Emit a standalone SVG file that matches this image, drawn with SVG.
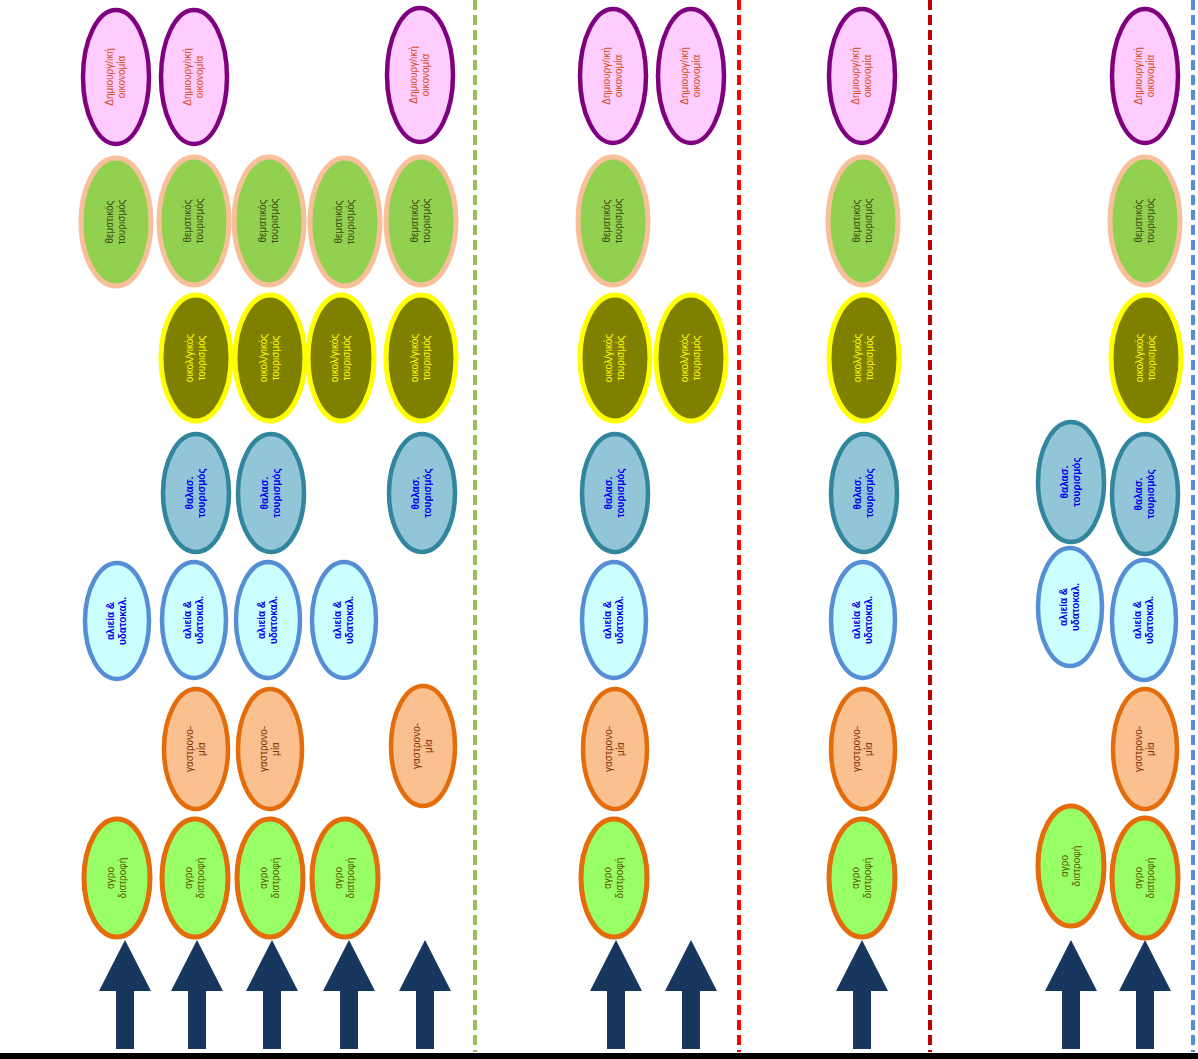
<svg xmlns="http://www.w3.org/2000/svg" width="1198" height="1059" viewBox="0 0 1198 1059">
<defs>
<style>
text{font-family:"Liberation Sans",Arial,sans-serif;font-size:10px;text-anchor:middle}
.pur ellipse{fill:#ffccff;stroke:#7f007f;stroke-width:4.5}
.pur text{fill:#d9480f}
.them ellipse{fill:#92d050;stroke:#f8c09a;stroke-width:5}
.them text{fill:#3a4a10}
.eco ellipse{fill:#7f7f00;stroke:#ffff00;stroke-width:5}
.eco text{fill:#ffff00}
.sea ellipse{fill:#92c5d8;stroke:#31859c;stroke-width:4.5}
.sea text{fill:#0000ee;font-weight:bold}
.fish ellipse{fill:#ccffff;stroke:#558ed5;stroke-width:4.5}
.fish text{fill:#0000ee;font-weight:bold}
.gas ellipse{fill:#fac090;stroke:#e46c0a;stroke-width:4.5}
.gas text{fill:#7f2f00}
.agr ellipse{fill:#99ff66;stroke:#e46c0a;stroke-width:5}
.agr text{fill:#5a5a00}
.arr{fill:#17375e}
.sep{fill:none;stroke-width:4;stroke-dasharray:10 5}
</style>
<path id="arrowT" d="M-9,1049 L-9,991 L-26,991 L0,940 L26,991 L9,991 L9,1049 Z"/>
</defs>
<rect width="1198" height="1059" fill="#ffffff"/>

<g id="separators">
<line class="sep" x1="475" y1="0" x2="475" y2="1052" stroke="#9bbb59"/>
<line class="sep" x1="739" y1="0" x2="739" y2="1052" stroke="#ff0000"/>
<line class="sep" x1="930" y1="0" x2="930" y2="1052" stroke="#c00000"/>
<line class="sep" x1="1193" y1="0" x2="1193" y2="1052" stroke="#558ed5"/>
<rect x="0" y="1053" width="1198" height="6" fill="#000000"/>
</g>

<g id="connectors" class="arr">
<use href="#arrowT" x="125"/>
<use href="#arrowT" x="197"/>
<use href="#arrowT" x="272"/>
<use href="#arrowT" x="349"/>
<use href="#arrowT" x="425"/>
<use href="#arrowT" x="616"/>
<use href="#arrowT" x="691"/>
<use href="#arrowT" x="862"/>
<use href="#arrowT" x="1071"/>
<use href="#arrowT" x="1145"/>
</g>

<!-- column 1 -->
<g id="n1-pur" class="pur"><ellipse cx="116" cy="77" rx="33" ry="67"/><text transform="translate(116,77) rotate(-90)"><tspan x="0" y="-3">Δημιουργ/ική</tspan><tspan x="0" y="9">οικονομία</tspan></text></g>
<g id="n1-them" class="them"><ellipse cx="116" cy="222" rx="35" ry="64"/><text transform="translate(116,222) rotate(-90)"><tspan x="0" y="-3">θεματικός</tspan><tspan x="0" y="9">τουρισμός</tspan></text></g>
<g id="n1-fish" class="fish"><ellipse cx="117" cy="621" rx="32" ry="58"/><text transform="translate(117,621) rotate(-90)"><tspan x="0" y="-3">αλιεία &amp;</tspan><tspan x="0" y="9">υδατοκαλ.</tspan></text></g>
<g id="n1-agr" class="agr"><ellipse cx="117" cy="878" rx="33" ry="59"/><text transform="translate(117,878) rotate(-90)"><tspan x="0" y="-3">αγρο</tspan><tspan x="0" y="9">διατροφή</tspan></text></g>

<!-- column 2 -->
<g id="n2-pur" class="pur"><ellipse cx="194" cy="77" rx="33" ry="67"/><text transform="translate(194,77) rotate(-90)"><tspan x="0" y="-3">Δημιουργ/ική</tspan><tspan x="0" y="9">οικονομία</tspan></text></g>
<g id="n2-them" class="them"><ellipse cx="194" cy="221" rx="35" ry="64"/><text transform="translate(194,221) rotate(-90)"><tspan x="0" y="-3">θεματικός</tspan><tspan x="0" y="9">τουρισμός</tspan></text></g>
<g id="n2-eco" class="eco"><ellipse cx="196" cy="358" rx="35" ry="63"/><text transform="translate(196,358) rotate(-90)"><tspan x="0" y="-3">οικολ/γικός</tspan><tspan x="0" y="9">τουρισμός</tspan></text></g>
<g id="n2-sea" class="sea"><ellipse cx="196" cy="493" rx="33" ry="59"/><text transform="translate(196,493) rotate(-90)"><tspan x="0" y="-3">θαλασ.</tspan><tspan x="0" y="9">τουρισμός</tspan></text></g>
<g id="n2-fish" class="fish"><ellipse cx="194" cy="620" rx="32" ry="58"/><text transform="translate(194,620) rotate(-90)"><tspan x="0" y="-3">αλιεία &amp;</tspan><tspan x="0" y="9">υδατοκαλ.</tspan></text></g>
<g id="n2-gas" class="gas"><ellipse cx="196" cy="749" rx="32" ry="60"/><text transform="translate(196,749) rotate(-90)"><tspan x="0" y="-3">γαστρονο-</tspan><tspan x="0" y="9">μία</tspan></text></g>
<g id="n2-agr" class="agr"><ellipse cx="195" cy="878" rx="33" ry="59"/><text transform="translate(195,878) rotate(-90)"><tspan x="0" y="-3">αγρο</tspan><tspan x="0" y="9">διατροφή</tspan></text></g>

<!-- column 3 -->
<g id="n3-them" class="them"><ellipse cx="269" cy="221" rx="35" ry="64"/><text transform="translate(269,221) rotate(-90)"><tspan x="0" y="-3">θεματικός</tspan><tspan x="0" y="9">τουρισμός</tspan></text></g>
<g id="n3-eco" class="eco"><ellipse cx="270" cy="358" rx="35" ry="63"/><text transform="translate(270,358) rotate(-90)"><tspan x="0" y="-3">οικολ/γικός</tspan><tspan x="0" y="9">τουρισμός</tspan></text></g>
<g id="n3-sea" class="sea"><ellipse cx="271" cy="493" rx="33" ry="59"/><text transform="translate(271,493) rotate(-90)"><tspan x="0" y="-3">θαλασ.</tspan><tspan x="0" y="9">τουρισμός</tspan></text></g>
<g id="n3-fish" class="fish"><ellipse cx="268" cy="620" rx="32" ry="58"/><text transform="translate(268,620) rotate(-90)"><tspan x="0" y="-3">αλιεία &amp;</tspan><tspan x="0" y="9">υδατοκαλ.</tspan></text></g>
<g id="n3-gas" class="gas"><ellipse cx="270" cy="749" rx="32" ry="60"/><text transform="translate(270,749) rotate(-90)"><tspan x="0" y="-3">γαστρονο-</tspan><tspan x="0" y="9">μία</tspan></text></g>
<g id="n3-agr" class="agr"><ellipse cx="270" cy="878" rx="33" ry="59"/><text transform="translate(270,878) rotate(-90)"><tspan x="0" y="-3">αγρο</tspan><tspan x="0" y="9">διατροφή</tspan></text></g>

<!-- column 4 -->
<g id="n4-them" class="them"><ellipse cx="345" cy="222" rx="35" ry="64"/><text transform="translate(345,222) rotate(-90)"><tspan x="0" y="-3">θεματικός</tspan><tspan x="0" y="9">τουρισμός</tspan></text></g>
<g id="n4-eco" class="eco"><ellipse cx="341" cy="358" rx="33" ry="63"/><text transform="translate(341,358) rotate(-90)"><tspan x="0" y="-3">οικολ/γικός</tspan><tspan x="0" y="9">τουρισμός</tspan></text></g>
<g id="n4-fish" class="fish"><ellipse cx="344" cy="620" rx="32" ry="58"/><text transform="translate(344,620) rotate(-90)"><tspan x="0" y="-3">αλιεία &amp;</tspan><tspan x="0" y="9">υδατοκαλ.</tspan></text></g>
<g id="n4-agr" class="agr"><ellipse cx="345" cy="878" rx="33" ry="59"/><text transform="translate(345,878) rotate(-90)"><tspan x="0" y="-3">αγρο</tspan><tspan x="0" y="9">διατροφή</tspan></text></g>

<!-- column 5 -->
<g id="n5-pur" class="pur"><ellipse cx="420" cy="75" rx="33" ry="67"/><text transform="translate(420,75) rotate(-90)"><tspan x="0" y="-3">Δημιουργ/ική</tspan><tspan x="0" y="9">οικονομία</tspan></text></g>
<g id="n5-them" class="them"><ellipse cx="421" cy="221" rx="35" ry="64"/><text transform="translate(421,221) rotate(-90)"><tspan x="0" y="-3">θεματικός</tspan><tspan x="0" y="9">τουρισμός</tspan></text></g>
<g id="n5-eco" class="eco"><ellipse cx="421" cy="358" rx="35" ry="63"/><text transform="translate(421,358) rotate(-90)"><tspan x="0" y="-3">οικολ/γικός</tspan><tspan x="0" y="9">τουρισμός</tspan></text></g>
<g id="n5-sea" class="sea"><ellipse cx="422" cy="493" rx="33" ry="59"/><text transform="translate(422,493) rotate(-90)"><tspan x="0" y="-3">θαλασ.</tspan><tspan x="0" y="9">τουρισμός</tspan></text></g>
<g id="n5-gas" class="gas"><ellipse cx="423" cy="746" rx="32" ry="60"/><text transform="translate(423,746) rotate(-90)"><tspan x="0" y="-3">γαστρονο-</tspan><tspan x="0" y="9">μία</tspan></text></g>

<!-- column 6 -->
<g id="n6-pur" class="pur"><ellipse cx="613" cy="76" rx="33" ry="67"/><text transform="translate(613,76) rotate(-90)"><tspan x="0" y="-3">Δημιουργ/ική</tspan><tspan x="0" y="9">οικονομία</tspan></text></g>
<g id="n6-them" class="them"><ellipse cx="613" cy="221" rx="35" ry="64"/><text transform="translate(613,221) rotate(-90)"><tspan x="0" y="-3">θεματικός</tspan><tspan x="0" y="9">τουρισμός</tspan></text></g>
<g id="n6-eco" class="eco"><ellipse cx="615" cy="358" rx="35" ry="63"/><text transform="translate(615,358) rotate(-90)"><tspan x="0" y="-3">οικολ/γικός</tspan><tspan x="0" y="9">τουρισμός</tspan></text></g>
<g id="n6-sea" class="sea"><ellipse cx="615" cy="493" rx="33" ry="59"/><text transform="translate(615,493) rotate(-90)"><tspan x="0" y="-3">θαλασ.</tspan><tspan x="0" y="9">τουρισμός</tspan></text></g>
<g id="n6-fish" class="fish"><ellipse cx="614" cy="620" rx="32" ry="58"/><text transform="translate(614,620) rotate(-90)"><tspan x="0" y="-3">αλιεία &amp;</tspan><tspan x="0" y="9">υδατοκαλ.</tspan></text></g>
<g id="n6-gas" class="gas"><ellipse cx="615" cy="749" rx="32" ry="60"/><text transform="translate(615,749) rotate(-90)"><tspan x="0" y="-3">γαστρονο-</tspan><tspan x="0" y="9">μία</tspan></text></g>
<g id="n6-agr" class="agr"><ellipse cx="614" cy="878" rx="33" ry="59"/><text transform="translate(614,878) rotate(-90)"><tspan x="0" y="-3">αγρο</tspan><tspan x="0" y="9">διατροφή</tspan></text></g>

<!-- column 7 -->
<g id="n7-pur" class="pur"><ellipse cx="691" cy="76" rx="33" ry="67"/><text transform="translate(691,76) rotate(-90)"><tspan x="0" y="-3">Δημιουργ/ική</tspan><tspan x="0" y="9">οικονομία</tspan></text></g>
<g id="n7-eco" class="eco"><ellipse cx="691" cy="358" rx="35" ry="63"/><text transform="translate(691,358) rotate(-90)"><tspan x="0" y="-3">οικολ/γικός</tspan><tspan x="0" y="9">τουρισμός</tspan></text></g>

<!-- column 8 -->
<g id="n8-pur" class="pur"><ellipse cx="862" cy="76" rx="33" ry="67"/><text transform="translate(862,76) rotate(-90)"><tspan x="0" y="-3">Δημιουργ/ική</tspan><tspan x="0" y="9">οικονομία</tspan></text></g>
<g id="n8-them" class="them"><ellipse cx="863" cy="221" rx="35" ry="64"/><text transform="translate(863,221) rotate(-90)"><tspan x="0" y="-3">θεματικός</tspan><tspan x="0" y="9">τουρισμός</tspan></text></g>
<g id="n8-eco" class="eco"><ellipse cx="864" cy="358" rx="35" ry="63"/><text transform="translate(864,358) rotate(-90)"><tspan x="0" y="-3">οικολ/γικός</tspan><tspan x="0" y="9">τουρισμός</tspan></text></g>
<g id="n8-sea" class="sea"><ellipse cx="864" cy="493" rx="33" ry="59"/><text transform="translate(864,493) rotate(-90)"><tspan x="0" y="-3">θαλασ.</tspan><tspan x="0" y="9">τουρισμός</tspan></text></g>
<g id="n8-fish" class="fish"><ellipse cx="863" cy="620" rx="32" ry="58"/><text transform="translate(863,620) rotate(-90)"><tspan x="0" y="-3">αλιεία &amp;</tspan><tspan x="0" y="9">υδατοκαλ.</tspan></text></g>
<g id="n8-gas" class="gas"><ellipse cx="863" cy="749" rx="32" ry="60"/><text transform="translate(863,749) rotate(-90)"><tspan x="0" y="-3">γαστρονο-</tspan><tspan x="0" y="9">μία</tspan></text></g>
<g id="n8-agr" class="agr"><ellipse cx="862" cy="878" rx="33" ry="59"/><text transform="translate(862,878) rotate(-90)"><tspan x="0" y="-3">αγρο</tspan><tspan x="0" y="9">διατροφή</tspan></text></g>

<!-- column 9 -->
<g id="n9-sea" class="sea"><ellipse cx="1071" cy="482" rx="33" ry="60"/><text transform="translate(1071,482) rotate(-90)"><tspan x="0" y="-3">θαλασ.</tspan><tspan x="0" y="9">τουρισμός</tspan></text></g>
<g id="n9-fish" class="fish"><ellipse cx="1070" cy="607" rx="32" ry="59"/><text transform="translate(1070,607) rotate(-90)"><tspan x="0" y="-3">αλιεία &amp;</tspan><tspan x="0" y="9">υδατοκαλ.</tspan></text></g>
<g id="n9-agr" class="agr"><ellipse cx="1071" cy="866" rx="33" ry="60"/><text transform="translate(1071,866) rotate(-90)"><tspan x="0" y="-3">αγρο</tspan><tspan x="0" y="9">διατροφή</tspan></text></g>

<!-- column 10 -->
<g id="n10-pur" class="pur"><ellipse cx="1145" cy="76" rx="33" ry="67"/><text transform="translate(1145,76) rotate(-90)"><tspan x="0" y="-3">Δημιουργ/ική</tspan><tspan x="0" y="9">οικονομία</tspan></text></g>
<g id="n10-them" class="them"><ellipse cx="1145" cy="221" rx="35" ry="64"/><text transform="translate(1145,221) rotate(-90)"><tspan x="0" y="-3">θεματικός</tspan><tspan x="0" y="9">τουρισμός</tspan></text></g>
<g id="n10-eco" class="eco"><ellipse cx="1146" cy="358" rx="35" ry="63"/><text transform="translate(1146,358) rotate(-90)"><tspan x="0" y="-3">οικολ/γικός</tspan><tspan x="0" y="9">τουρισμός</tspan></text></g>
<g id="n10-sea" class="sea"><ellipse cx="1145" cy="494" rx="33" ry="60"/><text transform="translate(1145,494) rotate(-90)"><tspan x="0" y="-3">θαλασ.</tspan><tspan x="0" y="9">τουρισμός</tspan></text></g>
<g id="n10-fish" class="fish"><ellipse cx="1144" cy="620" rx="32" ry="60"/><text transform="translate(1144,620) rotate(-90)"><tspan x="0" y="-3">αλιεία &amp;</tspan><tspan x="0" y="9">υδατοκαλ.</tspan></text></g>
<g id="n10-gas" class="gas"><ellipse cx="1145" cy="749" rx="32" ry="60"/><text transform="translate(1145,749) rotate(-90)"><tspan x="0" y="-3">γαστρονο-</tspan><tspan x="0" y="9">μία</tspan></text></g>
<g id="n10-agr" class="agr"><ellipse cx="1145" cy="878" rx="33" ry="60"/><text transform="translate(1145,878) rotate(-90)"><tspan x="0" y="-3">αγρο</tspan><tspan x="0" y="9">διατροφή</tspan></text></g>
</svg>
